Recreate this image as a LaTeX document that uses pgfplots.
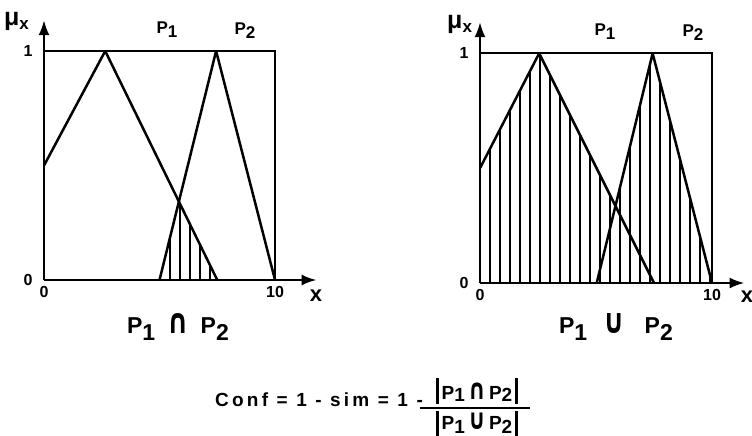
\documentclass[border=0pt]{standalone}
\usepackage{fontspec}
\setmainfont{Liberation Sans}
\newfontfamily\symf{DejaVu Sans}
\usepackage{pgfplots}
\pgfplotsset{compat=1.18}
\usetikzlibrary{arrows.meta,patterns.meta}

\newcommand{\fs}[1]{\fontsize{#1}{#1}\selectfont\bfseries}
\newcommand{\sub}[2][0.3em]{\raisebox{-#1}{#2}}
\newcommand{\vb}[1][5pt]{\rule[-#1]{2.6pt}{26pt}}
\newcommand{\capsym}{{\symf\scalebox{1.15}[1.5]{∩}}}
\newcommand{\cupsym}{{\symf\scalebox{1.15}[1.5]{∪}}}

\pgfplotsset{
  fuzzy/.style={
    scale only axis, clip=false,
    axis lines=left,
    axis line style={line width=2.4pt, -{Latex[length=15pt,width=11pt]}},
    xmin=0, ymin=0,
    xtick={0,10}, ytick={0,1},
    major tick length=0pt,
    tick label style={font=\fs{16}},
    /pgf/number format/assume math mode=true,
    xticklabel style={yshift=-3pt},
    yticklabel style={xshift=-8pt},
  },
  tri/.style={black, line width=2.5pt, line join=round, no markers, sharp plot},
  hatch/.style={draw=none, pattern={Lines[angle=90,distance=10pt,line width=1.8pt]}, pattern color=black},
}

\begin{document}
\begin{tikzpicture}
\useasboundingbox (0,0) rectangle (752pt,-436pt);

% P1 intersect P2
\begin{axis}[fuzzy, at={(44pt,-280pt)}, anchor=south west,
  width=272.6pt, height=259.9pt, xmax=11.8, ymax=1.135]
  \addplot[hatch] coordinates {(5,0) (5.84,0.34) (7.5,0)} \closedcycle;
  \addplot[tri] coordinates {(0,0.5) (2.65,1) (7.5,0)};
  \addplot[tri] coordinates {(5,0) (7.45,1) (10,0)};
  \draw[line width=2.2pt] (axis cs:0,1) -- (axis cs:10,1) -- (axis cs:10,0);
\end{axis}

% P1 union P2
\begin{axis}[fuzzy, at={(480pt,-283pt)}, anchor=south west,
  width=264.5pt, height=260.9pt, xmax=11.4, ymax=1.136]
  \addplot[hatch] coordinates {(0,0) (0,0.5) (2.55,1) (5.83,0.34) (7.44,1) (10,0)} \closedcycle;
  \addplot[tri] coordinates {(0,0.5) (2.55,1) (7.5,0)};
  \addplot[tri] coordinates {(5.03,0) (7.44,1) (10,0)};
  \draw[line width=2.2pt] (axis cs:0,1) -- (axis cs:10,1) -- (axis cs:10,0);
\end{axis}

% axis names and set labels
\node[font=\fs{25}, anchor=base west, inner sep=0pt] at (4pt,-26pt) {μ\sub[4pt]{\fs{17}x}};
\node[font=\fs{25}, anchor=base west, inner sep=0pt] at (447pt,-29pt) {μ\sub[4pt]{\fs{17}x}};
\node[font=\fs{22}] at (316pt,-296pt) {x};
\node[font=\fs{22}] at (747pt,-297pt) {x};

\node[font=\fs{17}] at (167pt,-30pt) {P\sub[4pt]{1}};
\node[font=\fs{17}] at (245pt,-31pt) {P\sub[4pt]{2}};
\node[font=\fs{17}] at (605pt,-32pt) {P\sub[4pt]{1}};
\node[font=\fs{17}] at (693pt,-33pt) {P\sub[4pt]{2}};

\node[font=\fs{23}, anchor=base] at (178pt,-333pt)
  {P\sub[7pt]{1}\hspace{12pt}\capsym\hspace{12pt}P\sub[7pt]{2}};
\node[font=\fs{23}, anchor=base] at (616pt,-333pt)
  {P\sub[7pt]{1}\hspace{16pt}\cupsym\hspace{20pt}P\sub[7pt]{2}};

% formula
\node[font=\fs{19}\addfontfeature{LetterSpace=17}, anchor=base west, inner sep=0pt] at (215pt,-406pt)
  {Conf = 1 - sim = 1 -};
\draw[line width=2.2pt] (420pt,-408pt) -- (530pt,-408pt);
\node[font=\fs{19}, anchor=base] at (477pt,-399pt)
  {\vb\,P\sub[2pt]{1}\,\capsym\,P\sub[2pt]{2}\,\vb};
\node[font=\fs{19}, anchor=base] at (477pt,-429pt)
  {\vb[8pt]\,P\sub[4pt]{1}\,\cupsym\,P\sub[4pt]{2}\,\vb[8pt]};
\end{tikzpicture}
\end{document}
